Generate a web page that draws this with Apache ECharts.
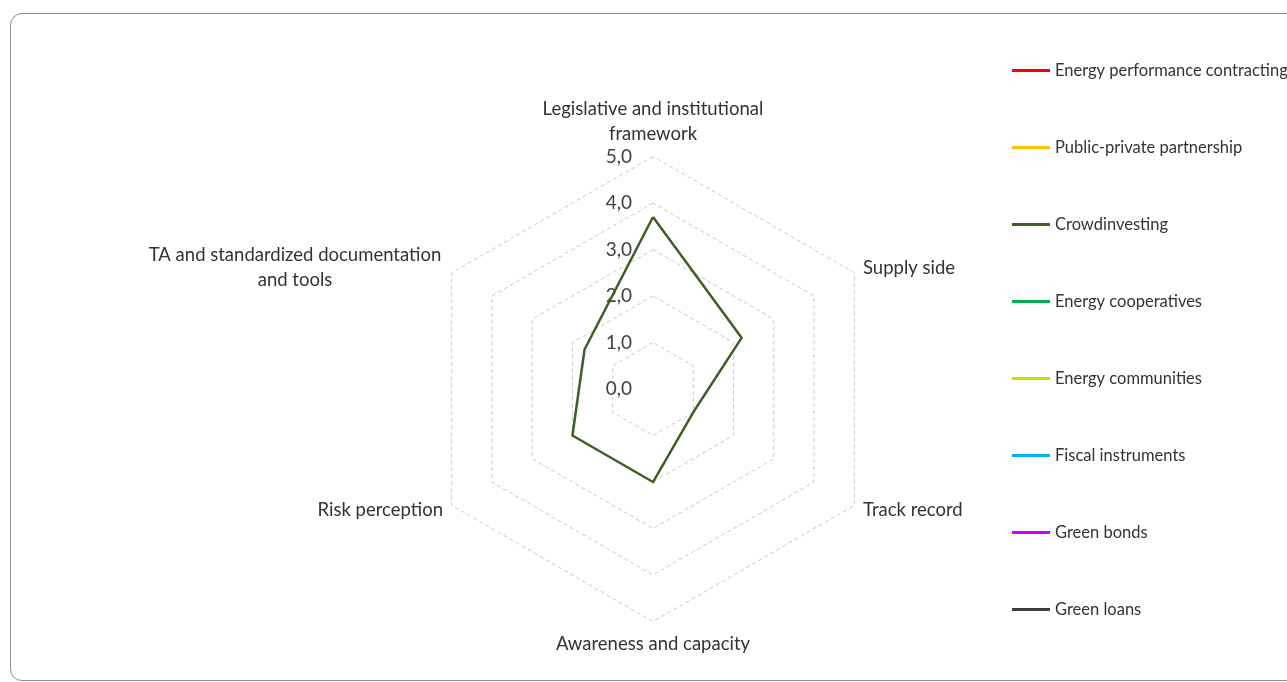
<!DOCTYPE html>
<html>
<head>
<meta charset="utf-8">
<script src="https://cdn.jsdelivr.net/npm/echarts@6/dist/echarts.min.js"></script>
<style>
html,body{margin:0;padding:0;background:#fff;overflow:hidden;}
#chart{width:1287px;height:682px;position:absolute;left:0;top:0;}
#frame{position:absolute;left:10px;top:13px;width:1300px;height:668px;border:1px solid #8c8c8c;border-radius:12px;pointer-events:none;box-sizing:border-box;}
</style>
</head>
<body>
<div id="chart"></div>
<div id="frame"></div>
<script>
// Indicators in clockwise order starting from the top
const indicators = [
  'Legislative and institutional\nframework',
  'Supply side',
  'Track record',
  'Awareness and capacity',
  'Risk perception',
  'TA and standardized documentation\nand tools'
];
const seriesNames = [
  'Energy performance contracting',
  'Public-private partnership',
  'Crowdinvesting',
  'Energy cooperatives',
  'Energy communities',
  'Fiscal instruments',
  'Green bonds',
  'Green loans'
];
const seriesColors = ['#FF0000','#FFC000','#3E5F26','#00B050','#CCDD00','#00B0F0','#CC00FF','#404040'];
// values per series, in the indicator order above (null = not shown)
const seriesValues = [
  [null, null, null, null, null, null],
  [null, null, null, null, null, null],
  [3.7, 2.2, 1.0, 2.0, 2.0, 1.7],
  [null, null, null, null, null, null],
  [null, null, null, null, null, null],
  [null, null, null, null, null, null],
  [null, null, null, null, null, null],
  [null, null, null, null, null, null]
];
const tickLabels = ['0,0','1,0','2,0','3,0','4,0','5,0'];
const FONT = 'Lato';

// ECharts places indicators counter-clockwise; reorder so they run clockwise
const order = [0, 5, 4, 3, 2, 1];

const chart = echarts.init(document.getElementById('chart'));
const indicatorOpts = order.map((k, i) => {
  const o = {name: indicators[k], min: 0, max: 5};
  if (i === 0) o.axisLabel = {show: true};
  return o;
});
chart.setOption({
  animation: false,
  legend: {
    orient: 'vertical',
    left: 1007,
    top: 57,
    icon: 'rect',
    itemWidth: 38,
    itemHeight: 3,
    itemGap: 60,
    textStyle: {fontFamily: FONT, fontSize: 16.5, color: '#333333', lineHeight: 17},
    data: seriesNames
  },
  radar: {
    center: [653, 389],
    radius: 232.5,
    startAngle: 90,
    splitNumber: 5,
    shape: 'polygon',
    nameGap: 10,
    axisName: {
      color: '#333333', fontFamily: FONT, fontSize: 18.5, lineHeight: 25,
      formatter: function (name) {
        if (name.indexOf('TA and') === 0) {
          return name.split('\n').map(s => '{c|' + s + '}').join('\n');
        }
        return name;
      },
      rich: {c: {width: 296, align: 'center', fontFamily: FONT, fontSize: 18.5, lineHeight: 25, color: '#333333'}}
    },
    axisLine: {show: false},
    axisTick: {show: false},
    axisLabel: {
      show: false, color: '#404040', fontFamily: FONT, fontSize: 19, margin: 21,
      formatter: function (v) { return tickLabels[Math.round(v)]; }
    },
    splitLine: {lineStyle: {color: '#c8c8c8', type: [4, 3], width: 1}},
    splitArea: {show: false},
    indicator: indicatorOpts
  },
  series: [{
    type: 'radar',
    symbol: 'none',
    data: seriesNames.map((n, i) => ({
      name: n,
      value: order.map(k => seriesValues[i][k]),
      itemStyle: {color: seriesColors[i]},
      lineStyle: {color: seriesColors[i], width: 2.5}
    }))
  }]
});
</script>
</body>
</html>
